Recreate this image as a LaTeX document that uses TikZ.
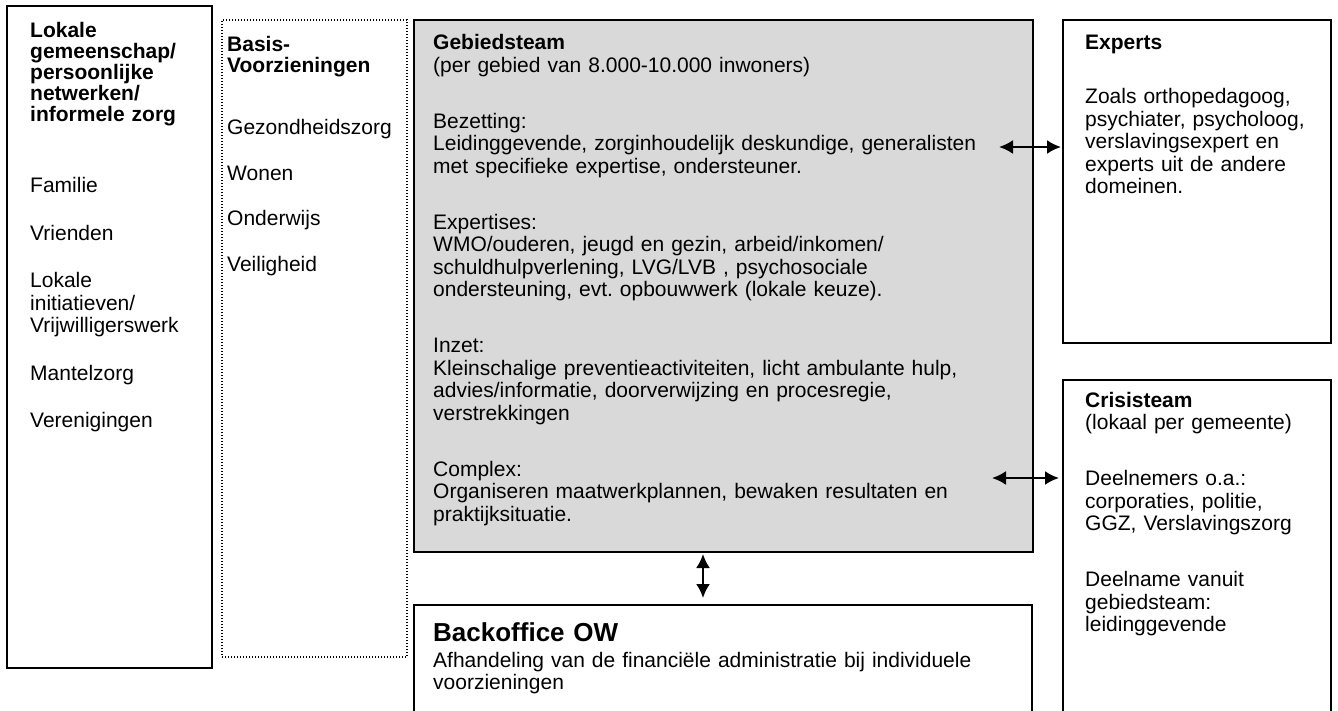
\documentclass[tikz,border=0pt]{standalone}
\usepackage{fontspec}
\setmainfont{Liberation Sans}
\usetikzlibrary{arrows.meta}
\definecolor{gfill}{RGB}{217,217,217}
\frenchspacing
\begin{document}
\begin{tikzpicture}[x=1pt,y=-1pt,
  box/.style={draw=black, line width=1.5pt, anchor=north west, inner sep=0pt, outer sep=0pt},
  txt/.style={anchor=base west, inner sep=0pt, align=left, font=\fontsize{21}{22.5}\selectfont},
  dbl/.style={line width=2.2pt, {Latex[length=14pt,width=14pt]}-{Latex[length=14pt,width=14pt]}}]
\path[use as bounding box] (0,0) rectangle (1338,711);
\clip (0,0) rectangle (1338,711);
% boxes
\node[box, line width=2pt, minimum width=205pt, minimum height=662pt] (lok) at (7,6) {};
\node[box, line width=1.2pt, dash pattern=on 1.4pt off 1.6pt, minimum width=185pt, minimum height=637pt] (bas) at (222,20) {};
\node[box, fill=gfill, minimum width=619pt, minimum height=532pt] (geb) at (414,20) {};
\node[box, minimum width=618pt, minimum height=140pt] (bo) at (414,605) {};
\node[box, minimum width=268pt, minimum height=323pt] (exp) at (1063,20) {};
\node[box, minimum width=268pt, minimum height=360pt] (cri) at (1063,380) {};
% texts: left
\node[txt, text width=180pt, font=\fontsize{21}{21}\selectfont\bfseries] (lokt) at (30,38)
 {Lokale\\gemeenschap/\\persoonlijke\\netwerken/\\informele zorg};
\node[txt, text width=180pt] (lokb) at (30,193)
 {Familie\\[25pt]Vrienden\\[25pt]Lokale\\initiatieven/\\Vrijwilligerswerk\\[25pt]Mantelzorg\\[25pt]Verenigingen};
% basis
\node[txt, text width=175pt, font=\fontsize{21}{21}\selectfont\bfseries] (bast) at (227,52)
 {Basis-\\Voorzieningen};
\node[txt, text width=175pt] (basb) at (227,135)
 {Gezondheidszorg\\[23pt]Wonen\\[23pt]Onderwijs\\[23pt]Veiligheid};
% gebiedsteam
\node[txt, text width=600pt] (gebt) at (433,50)
 {\textbf{Gebiedsteam}\\(per gebied van 8.000-10.000 inwoners)\\[33.5pt]
 Bezetting:\\Leidinggevende, zorginhoudelijk deskundige, generalisten\\met specifieke expertise, ondersteuner.\\[33.5pt]
 Expertises:\\WMO/ouderen, jeugd en gezin, arbeid/inkomen/\\schuldhulpverlening, LVG/LVB , psychosociale\\ondersteuning, evt. opbouwwerk (lokale keuze).\\[33.5pt]
 Inzet:\\Kleinschalige preventieactiviteiten, licht ambulante hulp,\\advies/informatie, doorverwijzing en procesregie,\\verstrekkingen\\[33.5pt]
 Complex:\\Organiseren maatwerkplannen, bewaken resultaten en\\praktijksituatie.};
% backoffice
\node[txt, text width=590pt, font=\fontsize{26}{28}\selectfont\bfseries] (bot) at (433,641) {Backoffice OW};
\node[txt, text width=590pt] (bob) at (433,667)
 {Afhandeling van de financiële administratie bij individuele\\voorzieningen};
% experts
\node[txt, text width=240pt] (expt) at (1085,50)
 {\textbf{Experts}\\[31.5pt]Zoals orthopedagoog,\\psychiater, psycholoog,\\verslavingsexpert en\\experts uit de andere\\domeinen.};
% crisisteam
\node[txt, text width=240pt] (crit) at (1085,407)
 {\textbf{Crisisteam}\\(lokaal per gemeente)\\[33.5pt]Deelnemers o.a.:\\corporaties, politie,\\GGZ, Verslavingszorg\\[33.5pt]Deelname vanuit\\gebiedsteam:\\leidinggevende};
% connectors
\coordinate (a1) at (999,147);
\coordinate (a2) at (992,478);
\coordinate (a3) at (703,0);
\draw[dbl, shorten >=2pt] (a1) -- (a1 -| exp.west);
\draw[dbl, shorten >=4pt] (a2) -- (a2 -| cri.west);
\draw[dbl, shorten <=2pt, shorten >=7pt] (a3 |- geb.south) -- (a3 |- bo.north);
\end{tikzpicture}
\end{document}
